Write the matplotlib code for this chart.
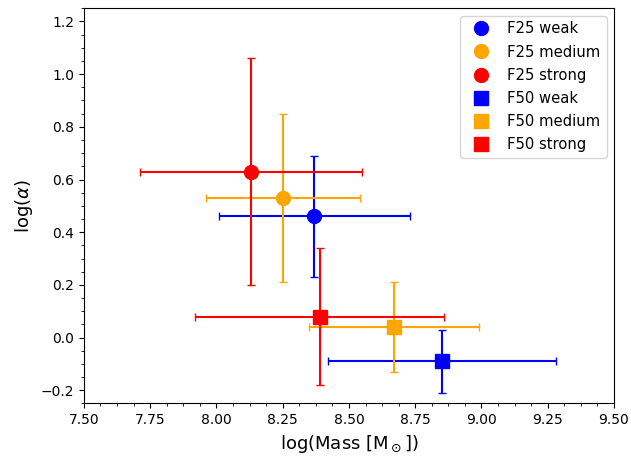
import matplotlib
matplotlib.use("Agg")
import matplotlib.pyplot as plt
from matplotlib.ticker import AutoMinorLocator
import numpy as np

labels = ["F25 weak", "F25 medium", "F25 strong", "F50 weak", "F50 medium", "F50 strong"]
colors = ["blue", "orange", "red", "blue", "orange", "red"]
markers = ["o", "o", "o", "s", "s", "s"]

x_vals = [8.37, 8.25, 8.13, 8.85, 8.67, 8.39]
x_lo = [8.01, 7.96, 7.71, 8.42, 8.35, 7.92]
x_hi = [8.73, 8.54, 8.55, 9.28, 8.99, 8.86]

y_vals = [0.46, 0.53, 0.63, -0.09, 0.04, 0.08]
y_lo = [0.23, 0.21, 0.20, -0.21, -0.13, -0.18]
y_hi = [0.69, 0.85, 1.06, 0.03, 0.21, 0.34]

fig = plt.figure(figsize=(6.31, 4.58), dpi=100)
ax = fig.add_axes([0.133, 0.119, 0.840, 0.863])

for i in range(len(labels)):
    xerr = [[x_vals[i] - x_lo[i]], [x_hi[i] - x_vals[i]]]
    yerr = [[y_vals[i] - y_lo[i]], [y_hi[i] - y_vals[i]]]
    ax.errorbar([x_vals[i]], [y_vals[i]], xerr=xerr, yerr=yerr, fmt=markers[i],
                color=colors[i], markersize=10, capsize=3, elinewidth=1.5,
                label=labels[i])

handles = [plt.Line2D([], [], linestyle="none", marker=markers[i], color=colors[i],
                      markersize=10) for i in range(len(labels))]
ax.legend(handles, labels, loc="upper right", fontsize=10.6, labelspacing=0.55)

ax.set_xlim(7.5, 9.5)
ax.set_ylim(-0.25, 1.25)
ax.set_xticks(np.arange(7.5, 9.51, 0.25))
ax.set_yticks(np.arange(-0.2, 1.21, 0.2))
ax.xaxis.set_minor_locator(AutoMinorLocator(4))
ax.yaxis.set_minor_locator(AutoMinorLocator(4))
ax.set_xlabel(r"log(Mass [M$_\odot$])", fontsize=13)
ax.set_ylabel(r"log($\alpha$)", fontsize=13)

fig.savefig("out.png", dpi=100)
